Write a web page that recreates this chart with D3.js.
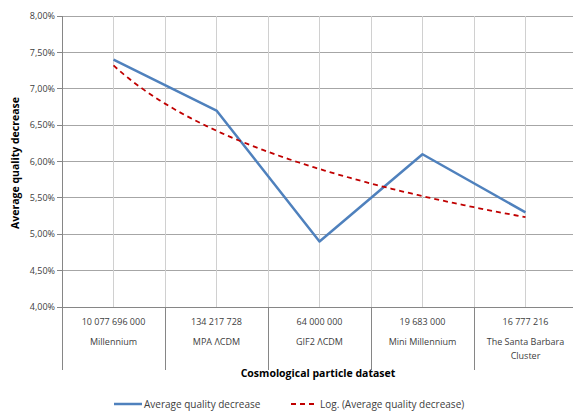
<!DOCTYPE html>
<html><head><meta charset="utf-8">
<script src="https://cdn.jsdelivr.net/npm/d3@7"></script>
<style>
html,body{margin:0;padding:0;background:#fff;}
svg{display:block;font-family:"Open Sans","Liberation Sans",sans-serif;}
</style></head>
<body>
<svg id="c" width="573" height="412"></svg>
<script>
const particleCounts = ["10 077 696 000","134 217 728","64 000 000","19 683 000","16 777 216"];
const datasetNames = ["Millennium","MPA \u039BCDM","GIF2 \u039BCDM","Mini Millennium","The Santa Barbara Cluster"];
const qualityDecrease = [0.074, 0.067, 0.049, 0.061, 0.053];
const yTicks = [0.04,0.045,0.05,0.055,0.06,0.065,0.07,0.075,0.08];

const svg = d3.select("#c");
const L = 62, R = 577, T = 16, B = 307;
const x = d3.scaleBand().domain(d3.range(datasetNames.length)).range([L, R]).padding(0);
const y = d3.scaleLinear().domain([0.04, 0.08]).range([B, T]);
const cx = i => x(i) + x.bandwidth()/2;

// horizontal gridlines
svg.append("g").selectAll("line").data(yTicks).join("line")
  .attr("x1", L).attr("x2", R).attr("y1", d=>y(d)).attr("y2", d=>y(d))
  .attr("stroke", "#a6a6a6").attr("stroke-width", 1).attr("shape-rendering","crispEdges");
// vertical gridlines at boundaries and centers
const vg = [];
datasetNames.forEach((d,i)=>{ if(i>0) vg.push(x(i)); vg.push(cx(i)); });
svg.append("g").selectAll("line").data(vg).join("line")
  .attr("x1", d=>d).attr("x2", d=>d).attr("y1", T).attr("y2", B)
  .attr("stroke", "#d0d0d0").attr("stroke-width", 1).attr("shape-rendering","crispEdges");

// axes lines
svg.append("line").attr("x1",L).attr("x2",L).attr("y1",T).attr("y2",B)
  .attr("stroke","#868686").attr("shape-rendering","crispEdges");
svg.append("line").attr("x1",L).attr("x2",R).attr("y1",B).attr("y2",B)
  .attr("stroke","#868686").attr("shape-rendering","crispEdges");
// y tick marks
svg.append("g").selectAll("line").data(yTicks).join("line")
  .attr("x1", L-5).attr("x2", L).attr("y1", d=>y(d)).attr("y2", d=>y(d))
  .attr("stroke","#868686").attr("shape-rendering","crispEdges");
// x category separators
svg.append("g").selectAll("line").data(d3.range(datasetNames.length)).join("line")
  .attr("x1", d=>x(d)).attr("x2", d=>x(d)).attr("y1", B).attr("y2", 370)
  .attr("stroke","#868686").attr("shape-rendering","crispEdges");

// y labels
const fmt = d => (d*100).toFixed(2).replace(".", ",") + "%";
svg.append("g").selectAll("text").data(yTicks).join("text")
  .attr("x", L-7).attr("y", d=>y(d)).attr("dy","0.35em").attr("text-anchor","end")
  .attr("font-size", 9).attr("fill","#404040").text(fmt);

// x labels
svg.append("g").selectAll("text").data(particleCounts).join("text")
  .attr("x", (d,i)=>cx(i)).attr("y", 325).attr("text-anchor","middle")
  .attr("font-size", 9).attr("fill","#404040").text(d=>d);
const nameG = svg.append("g");
datasetNames.forEach((n,i)=>{
  const words = n.split(" ");
  const lines = []; let cur = "";
  const maxChars = 18;
  words.forEach(w=>{
    const t = cur ? cur + " " + w : w;
    if (t.length > maxChars && cur) { lines.push(cur); cur = w; } else cur = t;
  });
  lines.push(cur);
  lines.forEach((ln,j)=>{
    nameG.append("text").attr("x", cx(i)).attr("y", 345 + j*14)
      .attr("text-anchor","middle").attr("font-size", 9).attr("fill","#404040").text(ln);
  });
});

// axis titles
svg.append("text").attr("x", 318).attr("y", 377).attr("text-anchor","middle")
  .attr("font-size", 10.5).attr("font-weight","bold").attr("fill","#000")
  .text("Cosmological particle dataset");
svg.append("text").attr("transform","translate(19,163) rotate(-90)").attr("text-anchor","middle")
  .attr("font-size", 10.5).attr("font-weight","bold").attr("fill","#000")
  .text("Average quality decrease");

// data line
const line = d3.line().x((d,i)=>cx(i)).y(d=>y(d));
svg.append("path").datum(qualityDecrease).attr("d", line)
  .attr("fill","none").attr("stroke","#4f81bd").attr("stroke-width",2.5).attr("stroke-linejoin","round");

// logarithmic trendline (least squares fit of value vs ln(index+1))
const lx = qualityDecrease.map((d,i)=>Math.log(i+1));
const mx = d3.mean(lx), my = d3.mean(qualityDecrease);
const a = d3.sum(lx.map((v,i)=>(v-mx)*(qualityDecrease[i]-my))) / d3.sum(lx.map(v=>(v-mx)*(v-mx)));
const b = my - a*mx;
const xs = d3.range(0, datasetNames.length-1+0.0001, 0.05);
const tl = d3.line().x(t=>x(0)+x.bandwidth()/2 + t*x.bandwidth()).y(t=>y(a*Math.log(t+1)+b));
svg.append("path").datum(xs).attr("d", tl)
  .attr("fill","none").attr("stroke","#c00000").attr("stroke-width",1.8).attr("stroke-dasharray","5,4");

// legend
const lg = svg.append("g");
lg.append("line").attr("x1",114).attr("x2",142).attr("y1",404).attr("y2",404)
  .attr("stroke","#4f81bd").attr("stroke-width",2.5);
lg.append("text").attr("x",144).attr("y",404).attr("dy","0.35em").attr("font-size",10).attr("fill","#404040")
  .text("Average quality decrease");
lg.append("line").attr("x1",291).attr("x2",318).attr("y1",404).attr("y2",404)
  .attr("stroke","#c00000").attr("stroke-width",1.8).attr("stroke-dasharray","5,4");
lg.append("text").attr("x",320).attr("y",404).attr("dy","0.35em").attr("font-size",10).attr("fill","#404040")
  .text("Log. (Average quality decrease)");
</script>
</body></html>
